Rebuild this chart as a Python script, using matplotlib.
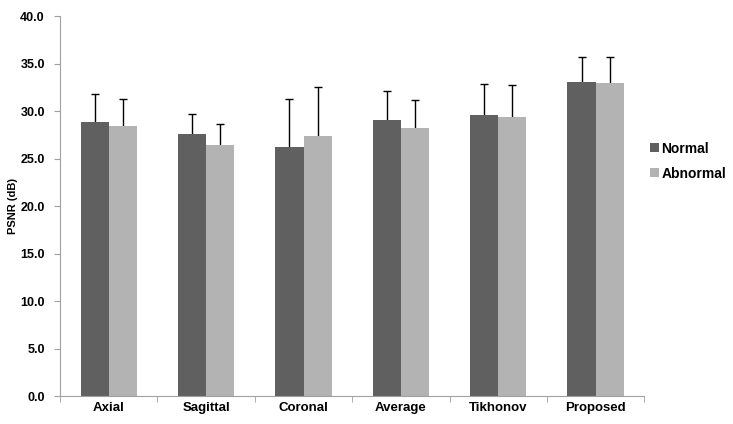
import matplotlib.pyplot as plt
import numpy as np

plt.rcParams['font.family'] = ['Liberation Sans', 'DejaVu Sans']

categories = ['Axial', 'Sagittal', 'Coronal', 'Average', 'Tikhonov', 'Proposed']
normal = [28.9, 27.6, 26.2, 29.1, 29.6, 33.1]
abnormal = [28.4, 26.4, 27.4, 28.2, 29.4, 33.0]
normal_err = [2.9, 2.1, 5.1, 3.0, 3.3, 2.6]
abnormal_err = [2.9, 2.2, 5.1, 3.0, 3.3, 2.7]

fig = plt.figure(figsize=(7.33, 4.24), dpi=100)
ax = fig.add_axes([0.082, 0.066, 0.797, 0.896])

x = np.arange(len(categories))
w = 0.29
for offset, vals, errs, color, label in [(-w / 2, normal, normal_err, '#606060', 'Normal'),
                                         (w / 2, abnormal, abnormal_err, '#b3b3b3', 'Abnormal')]:
    ax.bar(x + offset, vals, w, color=color, label=label, zorder=2)
    # upper-only error bars with a cap at the top
    tops = np.array(vals) + np.array(errs)
    ax.vlines(x + offset, vals, tops, color='black', linewidth=1, zorder=1)
    ax.plot(x + offset, tops, linestyle='none', marker='_', markersize=6,
            markeredgewidth=1, color='black', zorder=3)

ax.set_xlim(-0.5, len(categories) - 0.5)
ax.set_ylim(0, 40)
ax.set_yticks(np.arange(0, 40.1, 5))
ax.set_yticklabels([f'{v:.1f}' for v in np.arange(0, 40.1, 5)],
                   fontsize=9, fontweight='bold')
ax.set_xticks(x)
ax.set_xticklabels(categories, fontsize=9.5, fontweight='bold')
ax.set_xticks(np.arange(-0.5, len(categories), 1), minor=True)
ax.tick_params(axis='x', which='major', length=0, pad=4)
ax.tick_params(axis='x', which='minor', length=4, color='#a0a0a0', direction='out')
ax.tick_params(axis='y', length=4, color='#a0a0a0', direction='out', pad=7)

for s in ['top', 'right']:
    ax.spines[s].set_visible(False)
for s in ['left', 'bottom']:
    ax.spines[s].set_color('#a0a0a0')

ax.set_ylabel('PSNR (dB)', fontsize=8, fontweight='bold')
ax.yaxis.set_label_coords(-0.072, 0.5)

fig.legend(loc='center left', bbox_to_anchor=(0.87, 0.62), frameon=False,
           prop={'size': 10, 'weight': 'bold'}, handlelength=0.6,
           handleheight=0.6, handletextpad=0.2, labelspacing=0.8)

fig.savefig('out.png', dpi=100)
